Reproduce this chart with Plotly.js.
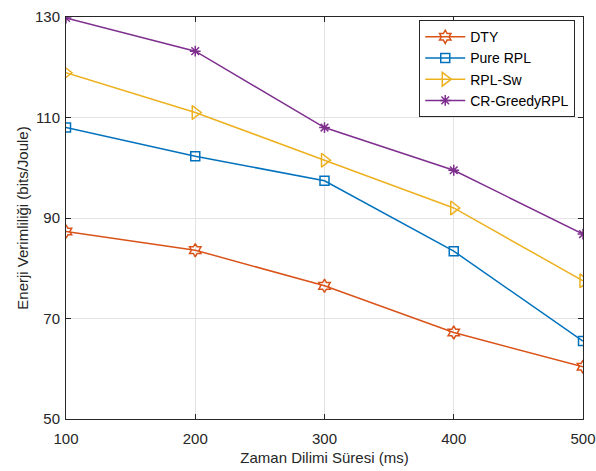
<!DOCTYPE html>
<html><head><meta charset="utf-8">
<script src="https://cdn.plot.ly/plotly-3.0.1.min.js"></script>
<style>html,body{margin:0;padding:0;background:#fff}#c{width:596px;height:471px}</style>
</head><body><div id="c"></div>
<script>
const xVals = [100, 200, 300, 400, 500];
const dty = [87.3, 83.6, 76.5, 67.2, 60.4];
const pureRPL = [108.0, 102.3, 97.4, 83.4, 65.5];
const rplSw = [118.9, 111.0, 101.5, 92.0, 77.5];
const crGreedy = [129.8, 123.2, 108.0, 99.5, 86.8];
const seriesNames = ["DTY", "Pure RPL", "RPL-Sw", "CR-GreedyRPL"];
const xTicks = [100, 200, 300, 400, 500];
const yTicks = [50, 70, 90, 110, 130];

const FONT = "Liberation Sans, Arial, sans-serif";
const colors = ["#D95319", "#0072BD", "#EDB120", "#7E2F8E"];
const symbols = ["hexagram-open", "square-open", "triangle-right-open", "asterisk-open"];
const sizes = [10, 9, 12, 9];
const data = [dty, pureRPL, rplSw, crGreedy].map((ys, i) => ({
  x: xVals, y: ys, name: seriesNames[i], type: "scatter", mode: "lines+markers",
  line: {color: colors[i], width: 1.5},
  marker: {symbol: symbols[i], size: sizes[i], color: colors[i], line: {color: colors[i], width: 1.5}}
}));

const axisCommon = {
  showline: true, mirror: "ticks", linecolor: "#262626", linewidth: 1,
  ticks: "inside", ticklen: 5, tickcolor: "#262626",
  showgrid: true, gridcolor: "#e3e3e3", gridwidth: 1, zeroline: false,
  tickfont: {family: FONT, size: 15, color: "#262626"}
};
const layout = {
  width: 596, height: 471,
  margin: {l: 66, r: 13, t: 17, b: 52},
  paper_bgcolor: "#fff", plot_bgcolor: "#fff",
  showlegend: true,
  legend: {x: 0.985, y: 0.992, xanchor: "right", yanchor: "top",
    bgcolor: "#fff", bordercolor: "#262626", borderwidth: 1,
    font: {family: FONT, size: 14, color: "#000"},
    tracegroupgap: 0, itemwidth: 40},
  xaxis: Object.assign({}, axisCommon, {
    range: [100, 500], tickvals: xTicks, ticklabelstandoff: 6,
    title: {text: "Zaman Dilimi Süresi (ms)", standoff: 6,
      font: {family: FONT, size: 15, color: "#262626"}}
  }),
  yaxis: Object.assign({}, axisCommon, {
    range: [50, 130], tickvals: yTicks, ticklabelstandoff: 2,
    title: {text: "Enerji Verimliliği (bits/Joule)", standoff: 2,
      font: {family: FONT, size: 15, color: "#262626"}}
  })
};
Plotly.newPlot("c", data, layout, {displayModeBar: false, staticPlot: true});
</script></body></html>
